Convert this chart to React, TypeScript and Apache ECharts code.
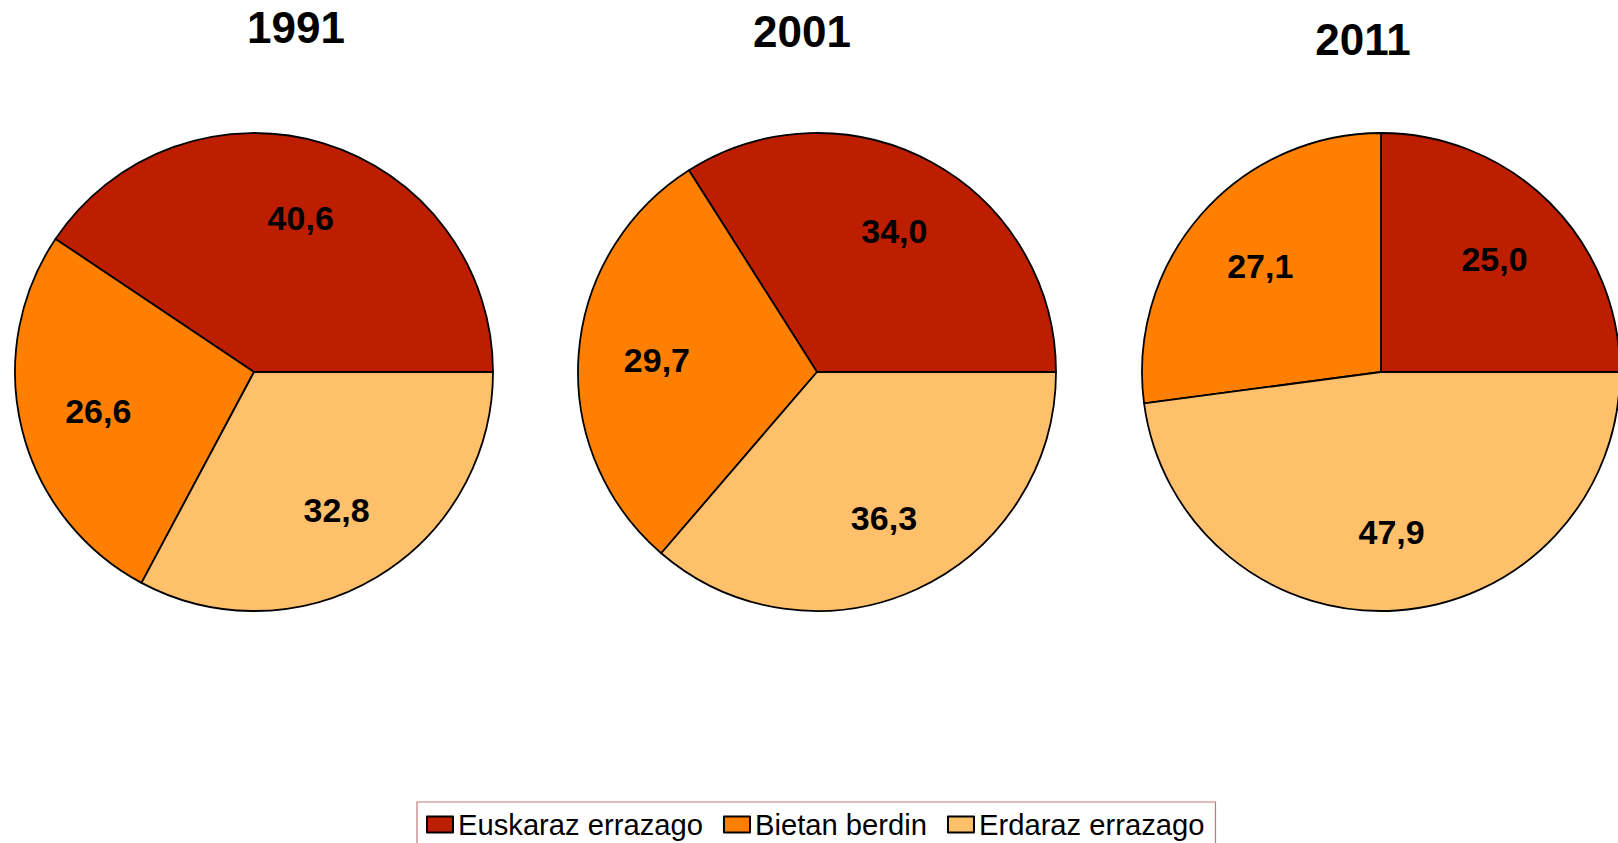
import React, { useEffect, useRef } from "react";
import * as echarts from "echarts";

const years = ["1991", "2001", "2011"];
const categories = ["Euskaraz errazago", "Bietan berdin", "Erdaraz errazago"];
const colors = ["#BE1E00", "#FF8000", "#FFC06B"];
const values1991 = [40.6, 26.6, 32.8];
const values2001 = [34.0, 29.7, 36.3];
const values2011 = [25.0, 27.1, 47.9];
const allValues = [values1991, values2001, values2011];

const centersX = [254, 817, 1381];
const centerY = 372;
const R = 239;
const titlePos = [
  [296, 27],
  [802, 31],
  [1363, 39],
];

const FONT = '"Liberation Sans", Arial, Helvetica, sans-serif';

export default function App() {
  const ref = useRef<HTMLDivElement>(null);
  useEffect(() => {
    document.body.style.margin = "0";
    if (!ref.current) return;
    const chart = echarts.init(ref.current, undefined, { renderer: "svg" });

    const pieSeries: any[] = [];
    const labelSeries: any[] = [];
    allValues.forEach((vals, i) => {
      const data = vals.map((v, j) => ({
        name: categories[j],
        value: v,
        itemStyle: { color: colors[j] },
      }));
      pieSeries.push({
        type: "pie",
        name: years[i],
        center: [centersX[i], centerY],
        radius: R,
        startAngle: 0,
        clockwise: false,
        silent: true,
        label: { show: false },
        labelLine: { show: false },
        itemStyle: { borderColor: "#000", borderWidth: 1.8 },
        emphasis: { disabled: true },
        data,
      });
      labelSeries.push({
        type: "pie",
        name: years[i] + " labels",
        center: [centersX[i], centerY],
        radius: [Math.round(R * 0.32), R],
        startAngle: 0,
        clockwise: false,
        silent: true,
        avoidLabelOverlap: false,
        itemStyle: { color: "rgba(0,0,0,0)", borderWidth: 0 },
        label: {
          show: true,
          position: "inside",
          formatter: (p: any) => Number(p.value).toFixed(1).replace(".", ","),
          fontSize: 34,
          fontWeight: "bold",
          fontFamily: FONT,
          color: "#000",
        },
        labelLine: { show: false },
        emphasis: { disabled: true },
        data: vals.map((v, j) => ({ name: categories[j], value: v })),
      });
    });

    chart.setOption({
      animation: false,
      backgroundColor: "#fff",
      legend: {
        data: categories,
        left: 417,
        top: 802,
        orient: "horizontal",
        icon: "rect",
        itemWidth: 26,
        itemHeight: 16,
        itemGap: 20,
        padding: [8, 11, 10, 9],
        borderColor: "#C07878",
        borderWidth: 1.2,
        selectedMode: false,
        textStyle: { fontSize: 29.2, fontFamily: FONT, color: "#000" },
      },
      graphic: years.map((y, i) => ({
        type: "text",
        x: titlePos[i][0],
        y: titlePos[i][1],
        style: {
          text: y,
          fontSize: 44,
          fontWeight: "bold",
          fontFamily: FONT,
          fill: "#000",
          align: "center",
          verticalAlign: "middle",
        },
      })),
      series: [...pieSeries, ...labelSeries],
    });
    return () => chart.dispose();
  }, []);
  return <div ref={ref} style={{ width: 1618, height: 843 }} />;
}
